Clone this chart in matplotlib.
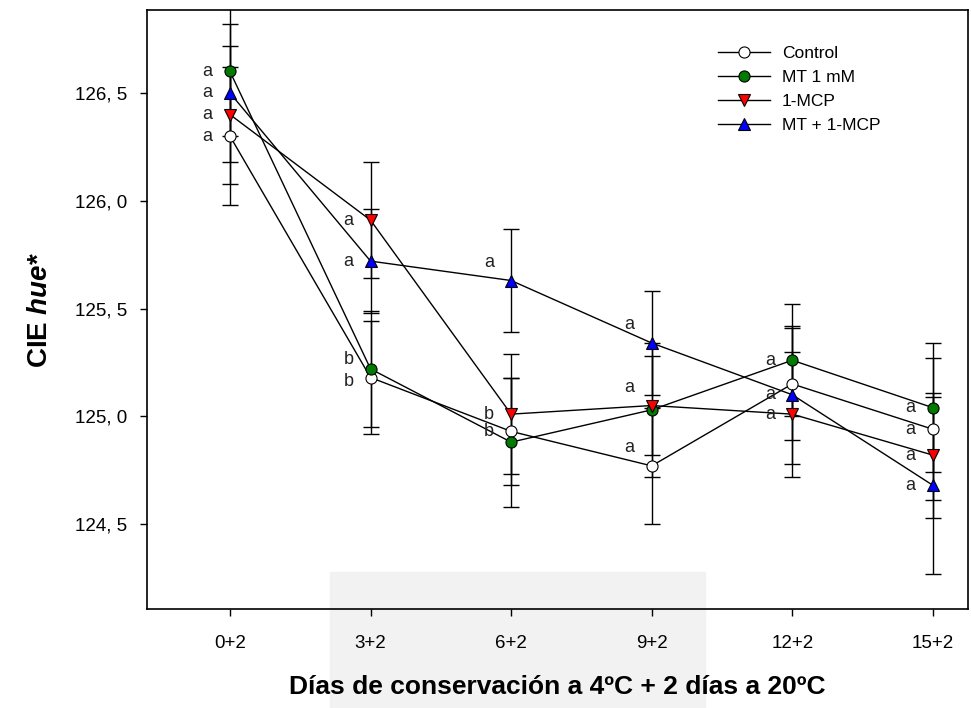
import numpy as np
import matplotlib
matplotlib.use('Agg')
import matplotlib.pyplot as plt
from matplotlib.patches import Rectangle

plt.rcParams['font.family'] = ['Liberation Sans', 'DejaVu Sans']
plt.rcParams['mathtext.fontset'] = 'custom'
plt.rcParams['mathtext.it'] = 'Liberation Sans:italic:bold'
plt.rcParams['mathtext.rm'] = 'Liberation Sans:bold'

# datos
dias = ['0+2', '3+2', '6+2', '9+2', '12+2', '15+2']

control = [126.30, 125.18, 124.93, 124.77, 125.15, 124.94]
control_err = [0.32, 0.26, 0.25, 0.27, 0.26, 0.33]
control_let = ['a', 'b', 'b', 'a', '', 'a']

mt = [126.60, 125.22, 124.88, 125.03, 125.26, 125.04]
mt_err = [0.30, 0.27, 0.30, 0.31, 0.26, 0.30]
mt_let = ['a', 'b', '', '', 'a', 'a']

mcp = [126.40, 125.91, 125.01, 125.05, 125.01, 124.82]
mcp_err = [0.32, 0.27, 0.28, 0.23, 0.29, 0.29]
mcp_let = ['a', 'a', 'b', 'a', 'a', 'a']

mtmcp = [126.50, 125.72, 125.63, 125.34, 125.10, 124.68]
mtmcp_err = [0.32, 0.24, 0.24, 0.24, 0.32, 0.41]
mtmcp_let = ['a', 'a', 'a', 'a', 'a', 'a']

series = [
    ('Control', control, control_err, control_let, 'o', 'white'),
    ('MT 1 mM', mt, mt_err, mt_let, 'o', '#007a00'),
    ('1-MCP', mcp, mcp_err, mcp_let, 'v', '#ff0000'),
    ('MT + 1-MCP', mtmcp, mtmcp_err, mtmcp_let, '^', '#0000ff'),
]

fig = plt.figure(figsize=(9.71, 7.08), dpi=100)

# marca de agua gris al fondo
fig.patches.append(Rectangle((330 / 971, 0), 375 / 971, 136 / 708,
                             transform=fig.transFigure, color='#f2f2f2', zorder=-5))

ax = fig.add_axes([147 / 971, 1 - 609 / 708, 821 / 971, 599 / 708])
ax.set_facecolor('none')

x = np.arange(len(dias))
handles = []
for name, vals, err, let, mk, col in series:
    ax.errorbar(x, vals, yerr=err, fmt='none', ecolor='black', elinewidth=1,
                capsize=6, capthick=1, zorder=2)
    h, = ax.plot(x, vals, '-', color='black', lw=1, marker=mk, ms=8,
                 mfc=col, mec='black', mew=0.8, label=name, zorder=3)
    handles.append(h)
    for i, (v, l) in enumerate(zip(vals, let)):
        if not l:
            continue
        dy = 0
        if i == 3 or (i == 2 and name == 'MT + 1-MCP'):
            dy = 13
        if i == 1 and name == 'MT 1 mM':
            dy = 7
        if i == 1 and name == 'Control':
            dy = -3
        ax.annotate(l, (x[i], v), xytext=(-16, dy), textcoords='offset points',
                    ha='center', va='center', fontsize=13, color='#222222', zorder=4)

ax.set_xlim(-0.59, 5.25)
ax.set_ylim(124.106, 126.885)
ax.set_xticks(x)
ax.set_xticklabels(dias)
yt = [124.5, 125.0, 125.5, 126.0, 126.5]
ax.set_yticks(yt)
ax.set_yticklabels([f'{v:.1f}'.replace('.', ', ') for v in yt])
ax.tick_params(direction='out', length=5, width=1, labelsize=13.5)
ax.tick_params(axis='x', pad=14)
ax.tick_params(axis='y', pad=9)
for s in ax.spines.values():
    s.set_linewidth(1.2)

ax.set_ylabel(r'CIE $\mathit{hue}$*', fontsize=20, fontweight='bold', labelpad=16)
ax.set_xlabel('Días de conservación a 4ºC + 2 días a 20ºC', fontsize=19,
              fontweight='bold', labelpad=16)

ax.legend(handles=handles, loc='upper left', bbox_to_anchor=(0.695, 0.94),
          frameon=False, fontsize=12.5, handlelength=3.0, handletextpad=0.7,
          labelspacing=0.5, borderpad=0, borderaxespad=0)

fig.savefig('out.png', dpi=100)
